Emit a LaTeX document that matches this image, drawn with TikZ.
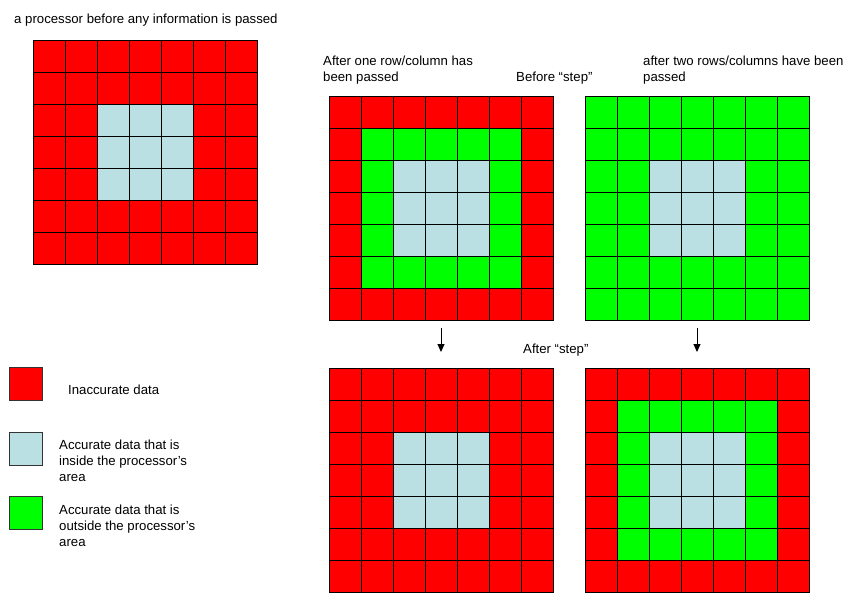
\documentclass[tikz,border=0pt]{standalone}
\usepackage{fontspec}
\setmainfont{Liberation Sans}
\usepackage{tikz}
\usetikzlibrary{arrows.meta,positioning}

\definecolor{badred}{RGB}{255,0,0}
\definecolor{inblue}{RGB}{187,224,227}
\definecolor{outgreen}{RGB}{0,255,0}

% 7x7 block of cells: name, top-left corner, outer ring, second ring, core
\newcommand{\cellgrid}[5]{%
  \begin{scope}[shift={#2}]
    \node[gridframe, anchor=north west] (#1) at (0,0) {};
    \foreach \i in {0,...,6}
      \foreach \j in {0,...,6} {
        \pgfmathtruncatemacro{\ring}{min(\i,\j,6-\i,6-\j)}
        \ifcase\ring \def\cellcol{#3}\or \def\cellcol{#4}\else \def\cellcol{#5}\fi
        \draw[cell, fill=\cellcol] (32*\i,32*\j) rectangle ++(32,32);
      }
  \end{scope}}

\begin{document}
\begin{tikzpicture}[
  x=1pt, y=-1pt,
  >={Triangle[length=8pt,width=7pt]},
  every node/.style={font=\fontsize{13.2}{15.8}\selectfont, inner sep=0pt},
  cell/.style={draw=black, line width=0.9pt},
  gridframe/.style={minimum width=224pt, minimum height=224pt, inner sep=0pt, outer sep=0pt},
  key/.style={draw=black!80, line width=0.9pt, minimum size=33pt, inner sep=0pt},
  caption/.style={align=left, anchor=base west}
]
\useasboundingbox (0,0) rectangle (849,592);

\node[caption] (start) at (14,23) {a processor before any information is passed};
\cellgrid{initial}{(33,40)}{badred}{badred}{inblue}

% multi-line captions sit on the baseline of their last line
\node[caption] (onecap) at (323,81.7) {After one row/column has\\been passed};
\node[caption] (beforecap) at (516,81.7) {Before “step”};
\node[caption] (twocap) at (643,81.7) {after two rows/columns have been\\passed};
\cellgrid{onepass}{(329,96)}{badred}{outgreen}{inblue}
\cellgrid{twopass}{(585,96)}{outgreen}{outgreen}{inblue}

\node[caption] (aftercap) at (523,353) {After “step”};
\cellgrid{onestep}{(329,368)}{badred}{badred}{inblue}
\cellgrid{twostep}{(585,368)}{badred}{outgreen}{inblue}

\draw[->, line width=0.9pt] ([yshift=-8pt]onepass.south) -- ([yshift=16pt]onestep.north);
\draw[->, line width=0.9pt] ([yshift=-8pt]twopass.south) -- ([yshift=16pt]twostep.north);

% legend
\node[key, fill=badred, anchor=north west] (keyred) at (9,367) {};
\node[caption] (keyredtxt) at (68,394) {Inaccurate data};
\node[key, fill=inblue, anchor=north west] (keyblue) at (9,432) {};
\node[caption] (keybluetxt) at (59,481) {Accurate data that is\\inside the processor’s\\area};
\node[key, fill=outgreen, anchor=north west] (keygreen) at (9,496) {};
\node[caption] (keygreentxt) at (59,546) {Accurate data that is\\outside the processor’s\\area};
\end{tikzpicture}
\end{document}
